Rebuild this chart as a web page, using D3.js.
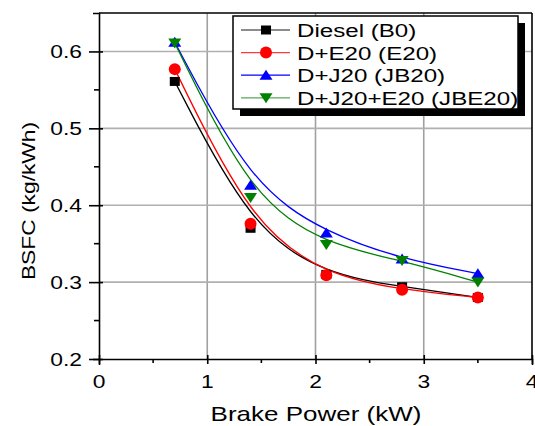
<!DOCTYPE html>
<html>
<head>
<meta charset="utf-8">
<script src="https://cdn.jsdelivr.net/npm/d3@7"></script>
<style>
    body { margin: 0; background: #fff; }
    text { font-family: "Liberation Sans", Arial, sans-serif; fill: #000; }
</style>
</head>
<body>
<script>
// data
const power = [0.7, 1.4, 2.1, 2.8, 3.5];
const diesel = [0.561, 0.370, 0.310, 0.294, 0.280];
const e20 = [0.577, 0.376, 0.309, 0.290, 0.280];
const jb20 = [0.612, 0.426, 0.364, 0.330, 0.311];
const jbe20 = [0.611, 0.410, 0.349, 0.328, 0.300];
const seriesNames = ["Diesel (B0)", "D+E20 (E20)", "D+J20 (JB20)", "D+J20+E20 (JBE20)"];
const xTicks = [0, 1, 2, 3, 4];
const yTicks = [0.2, 0.3, 0.4, 0.5, 0.6];

// marker shapes (slightly wide, like the original)
const triUp = {draw(ctx) { ctx.moveTo(0, -5.5); ctx.lineTo(6.5, 4.5); ctx.lineTo(-6.5, 4.5); ctx.closePath(); }};
const triDown = {draw(ctx) { ctx.moveTo(0, 5.5); ctx.lineTo(6.5, -4.5); ctx.lineTo(-6.5, -4.5); ctx.closePath(); }};
const square = {draw(ctx) { ctx.rect(-5, -4.5, 10, 9); }};
const circle = {draw(ctx) { ctx.moveTo(6, 0); ctx.arc(0, 0, 6, 0, 2 * Math.PI); }};

const series = [
    {name: seriesNames[0], values: diesel, color: "#000", legendLine: "#666", symbol: square},
    {name: seriesNames[1], values: e20, color: "#ff0000", legendLine: "#ff3a3a", symbol: circle},
    {name: seriesNames[2], values: jb20, color: "#0000ff", legendLine: "#0000ff", symbol: triUp},
    {name: seriesNames[3], values: jbe20, color: "#008000", legendLine: "#5aa65a", symbol: triDown}
];

const width = 535, height = 426;
const mLeft = 99, mRight = 532, mTop = 13, mBottom = 359;
const sx = 1.27; // text in the original is stretched sideways

let svg = d3.select("body")
    .append("svg")
    .attr("width", width)
    .attr("height", height);

let x = d3.scaleLinear().domain([0, 4]).range([mLeft, mRight]);
let y = d3.scaleLinear().domain([0.2, 0.65]).range([mBottom, mTop]);

// grid
svg.selectAll(".vgrid")
    .data([1, 2, 3])
    .enter()
    .append("line")
    .attr("x1", d => x(d)).attr("x2", d => x(d))
    .attr("y1", mTop).attr("y2", mBottom)
    .attr("stroke", "#a0a0a0")
    .attr("stroke-width", 1.6);
svg.selectAll(".hgrid")
    .data([0.3, 0.4, 0.5, 0.6])
    .enter()
    .append("line")
    .attr("x1", mLeft).attr("x2", mRight)
    .attr("y1", d => y(d)).attr("y2", d => y(d))
    .attr("stroke", "#b0b0b0")
    .attr("stroke-width", 1.6);

// axes (labels drawn separately)
let xAxis = svg.append("g")
    .attr("transform", `translate(0,${mBottom})`)
    .call(d3.axisBottom(x).tickValues(xTicks).tickFormat(""));
let yAxis = svg.append("g")
    .attr("transform", `translate(${mLeft},0)`)
    .call(d3.axisLeft(y).tickValues(yTicks).tickFormat(""));
xAxis.selectAll(".tick line").attr("y1", -4).attr("y2", 5);
yAxis.selectAll(".tick line").attr("x1", 4).attr("x2", -10);
[xAxis, yAxis].forEach(a => {
    a.select(".domain").attr("stroke-width", 1.6);
    a.selectAll(".tick line").attr("stroke-width", 1.6);
});

svg.selectAll(".xlabel")
    .data(xTicks)
    .enter()
    .append("text")
    .attr("transform", d => `translate(${x(d)},388) scale(${sx},1)`)
    .attr("text-anchor", "middle")
    .attr("font-size", 18)
    .text(d => d3.format("d")(d));
svg.selectAll(".ylabel")
    .data(yTicks)
    .enter()
    .append("text")
    .attr("transform", d => `translate(82,${y(d) + 6.5}) scale(${sx},1)`)
    .attr("text-anchor", "end")
    .attr("font-size", 18)
    .text(d => d3.format(".1f")(d));

// minor ticks
svg.selectAll(".xminor")
    .data([0.5, 1.5, 2.5, 3.5])
    .enter()
    .append("line")
    .attr("x1", d => x(d)).attr("x2", d => x(d))
    .attr("y1", mBottom).attr("y2", mBottom + 4)
    .attr("stroke", "#000").attr("stroke-width", 1.6);
svg.selectAll(".yminor")
    .data([0.25, 0.35, 0.45, 0.55])
    .enter()
    .append("line")
    .attr("x1", mLeft - 5).attr("x2", mLeft)
    .attr("y1", d => y(d)).attr("y2", d => y(d))
    .attr("stroke", "#000").attr("stroke-width", 1.6);

// frame top and right
svg.append("line")
    .attr("x1", mLeft).attr("x2", mRight).attr("y1", mTop).attr("y2", mTop)
    .attr("stroke", "#000").attr("stroke-width", 1.6);
svg.append("line")
    .attr("x1", mRight).attr("x2", mRight).attr("y1", mTop).attr("y2", mBottom)
    .attr("stroke", "#000").attr("stroke-width", 1.6);

// smoothed B-spline through the points
let line = d3.line()
    .x((d, i) => x(power[i]))
    .y(d => y(d))
    .curve(d3.curveBasis);

series.forEach(s => {
    svg.append("path")
        .datum(s.values)
        .attr("d", line)
        .attr("fill", "none")
        .attr("stroke", s.color)
        .attr("stroke-width", 1.3);
});

series.forEach(s => {
    svg.selectAll(null)
        .data(s.values)
        .enter()
        .append("path")
        .attr("d", d3.symbol().type(s.symbol))
        .attr("transform", (d, i) => `translate(${x(power[i])},${y(d)})`)
        .attr("fill", s.color);
});

// legend
let lg = svg.append("g").attr("transform", "translate(233,16)");
lg.append("rect")
    .attr("x", 7).attr("y", 7).attr("width", 285).attr("height", 93)
    .attr("fill", "#000");
lg.append("rect")
    .attr("x", 0).attr("y", 0).attr("width", 285).attr("height", 93)
    .attr("fill", "#fff").attr("stroke", "#000").attr("stroke-width", 1.5);
series.forEach((s, i) => {
    let ry = 14 + i * 22.6;
    lg.append("line")
        .attr("x1", 8).attr("x2", 57).attr("y1", ry).attr("y2", ry)
        .attr("stroke", s.legendLine).attr("stroke-width", 1.3);
    lg.append("path")
        .attr("d", d3.symbol().type(s.symbol))
        .attr("transform", `translate(33,${ry})`)
        .attr("fill", s.color);
    lg.append("text")
        .attr("transform", `translate(64,${ry + 7}) scale(${sx},1)`)
        .attr("font-size", 19)
        .text(s.name);
});

// axis titles
svg.append("text")
    .attr("transform", `translate(316,421) scale(1.3,1)`)
    .attr("text-anchor", "middle")
    .attr("font-size", 20)
    .text("Brake Power (kW)");
svg.append("text")
    .attr("transform", "translate(35,201) rotate(-90) scale(1.2,1)")
    .attr("text-anchor", "middle")
    .attr("font-size", 19)
    .text("BSFC (kg/kWh)");
</script>
</body>
</html>
